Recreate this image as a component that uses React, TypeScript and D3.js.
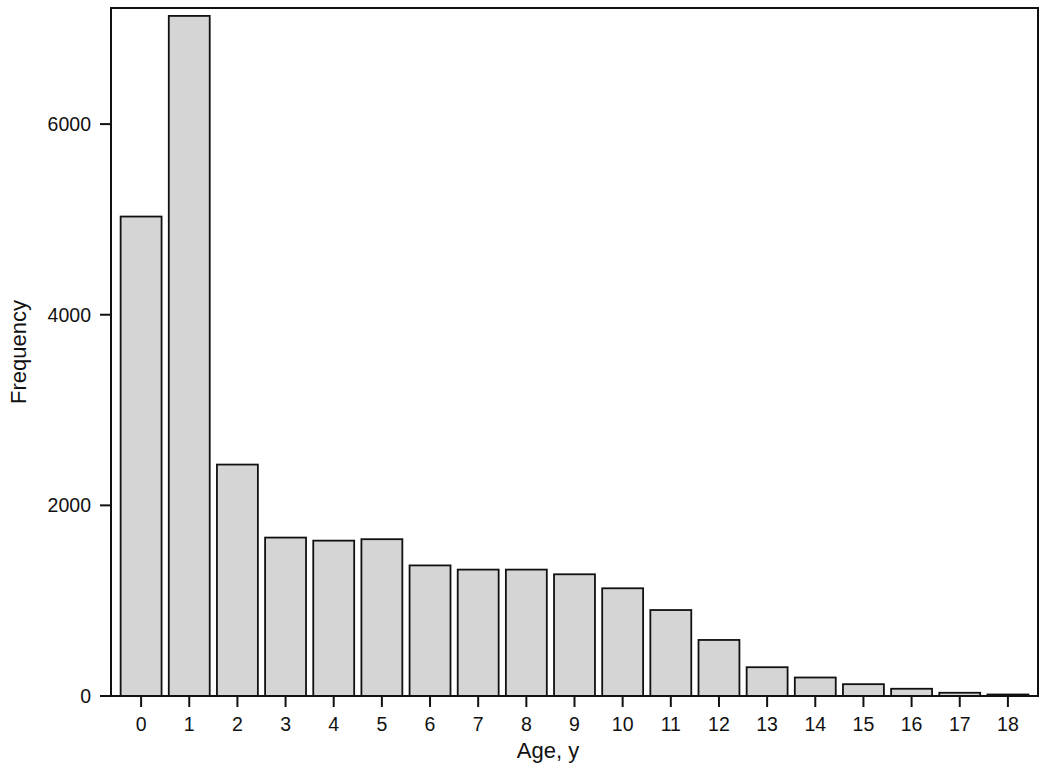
import React from "react";
import * as d3 from "d3";

const ages: string[] = ["0","1","2","3","4","5","6","7","8","9","10","11","12","13","14","15","16","17","18"];
const frequency: number[] = [5030, 7135, 2428, 1662, 1630, 1645, 1370, 1326, 1326, 1277, 1130, 902, 588, 302, 194, 124, 76, 34, 16];
const yTicks: number[] = [0, 2000, 4000, 6000];
const xTitle = "Age, y";
const yTitle = "Frequency";

const W = 1050, H = 771;
const left = 111, right = 1038, top = 8, bottom = 696;
const yMax = 7218;

export default function App() {
  const x = d3.scaleBand<string>().domain(ages).range([left, right]).paddingInner(0.15).paddingOuter(0.2);
  const y = d3.scaleLinear().domain([0, yMax]).range([bottom, top]);
  const font = "Arial, 'Liberation Sans', Helvetica, sans-serif";
  return (
    <div style={{ position: "absolute", left: 0, top: 0 }}>
      <svg width={W} height={H} style={{ display: "block", background: "#fff" }} fontFamily={font}>
        <rect x={0} y={0} width={W} height={H} fill="#fff" />
        {frequency.map((v, i) => (
          <rect key={i} x={x(ages[i])} y={y(v)} width={x.bandwidth()} height={bottom - y(v)}
            fill="#d5d5d5" stroke="#111" strokeWidth={1.8} />
        ))}
        <rect x={left} y={top} width={right - left} height={bottom - top} fill="none" stroke="#111" strokeWidth={2} />
        {yTicks.map(t => (
          <g key={t}>
            <line x1={left - 11} x2={left} y1={y(t)} y2={y(t)} stroke="#111" strokeWidth={2} />
            <text x={left - 20} y={y(t)} dy="0.35em" textAnchor="end" fontSize={19.5} fill="#111">{t}</text>
          </g>
        ))}
        {ages.map(a => {
          const cx = (x(a) as number) + x.bandwidth() / 2;
          return (
            <g key={a}>
              <line x1={cx} x2={cx} y1={bottom} y2={bottom + 11} stroke="#111" strokeWidth={2} />
              <text x={cx} y={731} textAnchor="middle" fontSize={19.5} fill="#111">{a}</text>
            </g>
          );
        })}
        <text x={548} y={758} textAnchor="middle" fontSize={22} fill="#111">{xTitle}</text>
        <text transform={`translate(26, 352) rotate(-90)`} textAnchor="middle" fontSize={22} fill="#111">{yTitle}</text>
      </svg>
    </div>
  );
}
